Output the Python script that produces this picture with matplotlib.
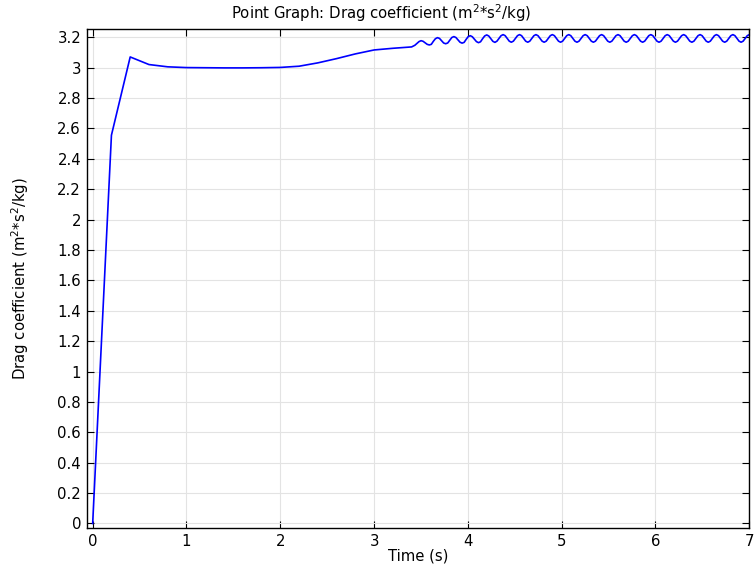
import numpy as np
import matplotlib
matplotlib.use("Agg")
import matplotlib.pyplot as plt
from matplotlib.ticker import FuncFormatter, MultipleLocator

# start-up phase, output every 0.2 s
t_start = [0.0, 0.2, 0.4, 0.6, 0.8, 1.0, 1.2, 1.4, 1.6, 1.8,
           2.0, 2.2, 2.4, 2.6, 2.8, 3.0, 3.2, 3.4]
cd_start = [0.0, 2.556, 3.071, 3.021, 3.006, 3.001, 3.000, 2.999, 2.999, 3.000,
            3.002, 3.010, 3.032, 3.060, 3.091, 3.117, 3.128, 3.137]

# vortex shedding phase
cd_osc = [
    3.148, 3.160, 3.172,
    3.178, 3.174, 3.164, 3.154, 3.150, 3.154, 3.174, 3.191,
    3.198, 3.193, 3.178, 3.163, 3.158, 3.163, 3.181, 3.199,
    3.205, 3.199, 3.184, 3.168, 3.162, 3.167, 3.187, 3.205,
    3.211, 3.204, 3.188, 3.172, 3.165, 3.171, 3.191, 3.209,
    3.216, 3.209, 3.192, 3.174, 3.167, 3.175, 3.193, 3.211,
    3.218, 3.211, 3.193, 3.175, 3.168, 3.175, 3.193, 3.211,
    3.218, 3.211, 3.193, 3.175, 3.168, 3.175, 3.193, 3.211,
    3.218, 3.211, 3.193, 3.175, 3.168, 3.175, 3.193, 3.211,
    3.218, 3.211, 3.193, 3.175, 3.168, 3.175, 3.193, 3.211,
    3.218, 3.211, 3.193, 3.175, 3.168, 3.175, 3.193, 3.211,
    3.218, 3.211, 3.193, 3.175, 3.168, 3.175, 3.193, 3.211,
    3.218, 3.211, 3.193, 3.175, 3.168, 3.175, 3.193, 3.211,
    3.218, 3.211, 3.193, 3.175, 3.168, 3.175, 3.193, 3.211,
    3.218, 3.211, 3.193, 3.175, 3.168, 3.175, 3.193, 3.211,
    3.218, 3.211, 3.193, 3.175, 3.168, 3.175, 3.193, 3.211,
    3.218, 3.211, 3.193, 3.175, 3.168, 3.175, 3.193, 3.211,
    3.218, 3.211, 3.193, 3.175, 3.168, 3.175, 3.193, 3.211,
    3.218, 3.211, 3.193, 3.175, 3.168, 3.175, 3.193, 3.211,
    3.218, 3.211, 3.193, 3.175, 3.168, 3.175, 3.193, 3.211,
    3.218, 3.211, 3.193, 3.175, 3.168, 3.175, 3.193, 3.211,
    3.218,
]
# equally spaced output times of the shedding phase
t_osc = np.linspace(3.435, 7.0, len(cd_osc))

t = np.concatenate([t_start, t_osc])
cd = np.concatenate([cd_start, cd_osc])

fs = 10.7

fig = plt.figure(figsize=(7.55, 5.69), dpi=100)
ax = fig.add_axes([0.1148, 0.0715, 0.8779, 0.877])

ax.plot(t, cd, color="#0000ff", lw=1.2)

ax.set_xlim(-0.064, 7.002)
ax.set_ylim(-0.032, 3.253)
ax.xaxis.set_major_locator(MultipleLocator(1))
ax.yaxis.set_major_locator(MultipleLocator(0.2))
fmt = FuncFormatter(lambda v, p: "%g" % round(v, 2))
ax.xaxis.set_major_formatter(fmt)
ax.yaxis.set_major_formatter(fmt)

ax.grid(True, color="#e3e3e3", lw=0.8)
ax.set_axisbelow(True)
ax.tick_params(direction="in", top=True, right=True, length=5, width=0.8,
               labelsize=fs, colors="black", pad=4)
for s in ax.spines.values():
    s.set_linewidth(1.0)

fig.text(381 / 755, 1 - 13 / 569, r"Point Graph: Drag coefficient (m$^2$*s$^2$/kg)",
         fontsize=fs, ha="center", va="center")
ax.set_xlabel("Time (s)", fontsize=fs, labelpad=0)
ax.set_ylabel(r"Drag coefficient (m$^2$*s$^2$/kg)", fontsize=fs, labelpad=19)

fig.savefig("out.png", dpi=100)
